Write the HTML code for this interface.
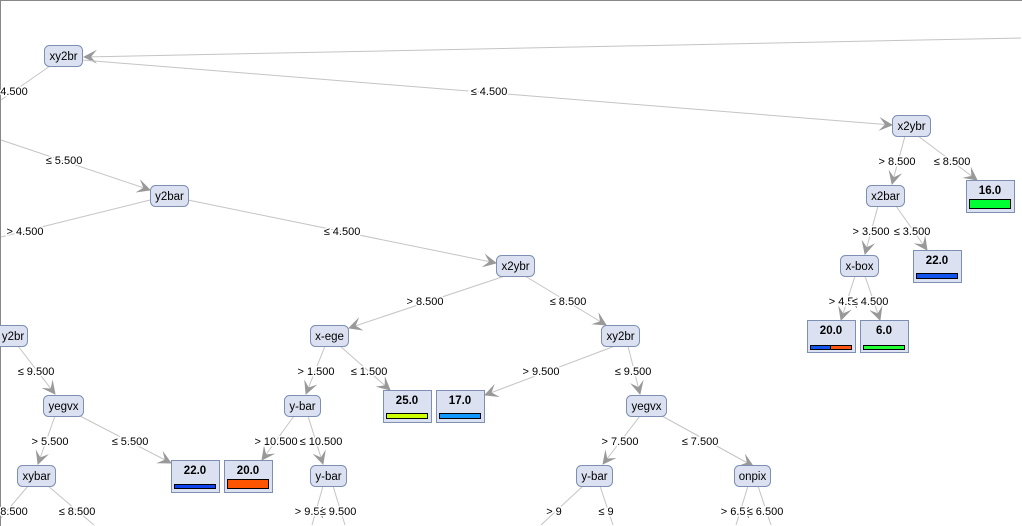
<!DOCTYPE html>
<html><head><meta charset="utf-8"><style>
html,body{margin:0;padding:0;background:#fff;width:1022px;height:526px;overflow:hidden;}
svg{display:block;font-family:"Liberation Sans",sans-serif;overflow:hidden}
.e{stroke:#c4c4c4;stroke-width:1;fill:none}
.n{fill:#dbe1f1;stroke:#7d8fb3;stroke-width:1}
.l{font-size:11px;fill:#000;stroke:#fff;stroke-width:3px;paint-order:stroke;text-anchor:middle}
.t{font-size:11.5px;text-anchor:middle;fill:#000}
.v{font-size:11.5px;font-weight:bold;text-anchor:middle}
</style></head><body>
<svg width="1022" height="526" viewBox="0 0 1022 526">
<defs><marker id="a" markerWidth="16" markerHeight="14" refX="13" refY="7" orient="auto" markerUnits="userSpaceOnUse"><path d="M0,0 L14,7 L0,14 L6,7 z" fill="#999"/></marker></defs>
<path d="M0.5,526 L0.5,0.5 L1022,0.5" fill="none" stroke="#888"/>
<g class="e">
<line x1="1021" y1="38" x2="84" y2="57" marker-end="url(#a)"/>
<line x1="82" y1="60" x2="892" y2="125" marker-end="url(#a)"/>
<line x1="50" y1="66" x2="1" y2="100"/>
<line x1="1" y1="140" x2="150" y2="190" marker-end="url(#a)"/>
<line x1="150" y1="200" x2="1" y2="237"/>
<line x1="188" y1="200" x2="496" y2="263" marker-end="url(#a)"/>
<line x1="505" y1="276" x2="349" y2="328" marker-end="url(#a)"/>
<line x1="525" y1="276" x2="606" y2="325" marker-end="url(#a)"/>
<line x1="325" y1="346" x2="306" y2="394" marker-end="url(#a)"/>
<line x1="340" y1="346" x2="390" y2="390" marker-end="url(#a)"/>
<line x1="615" y1="346" x2="485" y2="395" marker-end="url(#a)"/>
<line x1="628" y1="346" x2="640" y2="394" marker-end="url(#a)"/>
<line x1="18" y1="346" x2="55" y2="394" marker-end="url(#a)"/>
<line x1="55" y1="416" x2="38" y2="464" marker-end="url(#a)"/>
<line x1="80" y1="416" x2="171" y2="463" marker-end="url(#a)"/>
<line x1="294" y1="416" x2="262" y2="460" marker-end="url(#a)"/>
<line x1="308" y1="416" x2="323" y2="464" marker-end="url(#a)"/>
<line x1="323" y1="486" x2="312" y2="525"/>
<line x1="333" y1="486" x2="345" y2="525"/>
<line x1="28" y1="486" x2="1" y2="518"/>
<line x1="48" y1="486" x2="94" y2="525"/>
<line x1="640" y1="416" x2="603" y2="464" marker-end="url(#a)"/>
<line x1="662" y1="416" x2="753" y2="466" marker-end="url(#a)"/>
<line x1="583" y1="486" x2="541" y2="525"/>
<line x1="600" y1="486" x2="613" y2="525"/>
<line x1="748" y1="486" x2="736" y2="525"/>
<line x1="758" y1="486" x2="771" y2="525"/>
<line x1="905" y1="136" x2="892" y2="184" marker-end="url(#a)"/>
<line x1="918" y1="136" x2="977" y2="180" marker-end="url(#a)"/>
<line x1="878" y1="206" x2="865" y2="254" marker-end="url(#a)"/>
<line x1="896" y1="206" x2="927" y2="250" marker-end="url(#a)"/>
<line x1="855" y1="276" x2="841" y2="320" marker-end="url(#a)"/>
<line x1="865" y1="276" x2="880" y2="320" marker-end="url(#a)"/>
</g>
<g>
<text class="l" x="489" y="95">≤ 4.500</text>
<text class="l" x="14" y="95">4.500</text>
<text class="l" x="64" y="164">≤ 5.500</text>
<text class="l" x="25" y="235">&gt; 4.500</text>
<text class="l" x="342" y="235">≤ 4.500</text>
<text class="l" x="425" y="305">&gt; 8.500</text>
<text class="l" x="568" y="305">≤ 8.500</text>
<text class="l" x="316" y="375">&gt; 1.500</text>
<text class="l" x="369" y="375">≤ 1.500</text>
<text class="l" x="541" y="375">&gt; 9.500</text>
<text class="l" x="633" y="375">≤ 9.500</text>
<text class="l" x="36" y="375">≤ 9.500</text>
<text class="l" x="50" y="445">&gt; 5.500</text>
<text class="l" x="130" y="445">≤ 5.500</text>
<text class="l" x="276" y="445">&gt; 10.500</text>
<text class="l" x="321" y="445">≤ 10.500</text>
<text class="l" x="309" y="515">&gt; 9.5(</text>
<text class="l" x="338" y="515">≤ 9.500</text>
<text class="l" x="14" y="515">8.500</text>
<text class="l" x="77" y="515">≤ 8.500</text>
<text class="l" x="620" y="445">&gt; 7.500</text>
<text class="l" x="700" y="445">≤ 7.500</text>
<text class="l" x="554" y="515">&gt; 9</text>
<text class="l" x="606" y="515">≤ 9</text>
<text class="l" x="735" y="515">&gt; 6.5(</text>
<text class="l" x="765" y="515">≤ 6.500</text>
<text class="l" x="897" y="165">&gt; 8.500</text>
<text class="l" x="952" y="165">≤ 8.500</text>
<text class="l" x="871" y="235">&gt; 3.500</text>
<text class="l" x="912" y="235">≤ 3.500</text>
<text class="l" x="843" y="305">&gt; 4.5(</text>
<text class="l" x="870" y="305">≤ 4.500</text>
</g>
<g>
<rect class="n" x="44.5" y="45.5" width="38" height="21" rx="5"/><text class="t" x="63.5" y="60">xy2br</text>
<rect class="n" x="150.5" y="185.5" width="38" height="21" rx="5"/><text class="t" x="169.5" y="200">y2bar</text>
<rect class="n" x="892.5" y="115.5" width="38" height="21" rx="5"/><text class="t" x="911.5" y="130">x2ybr</text>
<rect class="n" x="866.5" y="185.5" width="38" height="21" rx="5"/><text class="t" x="885.5" y="200">x2bar</text>
<rect class="n" x="840.5" y="255.5" width="38" height="21" rx="5"/><text class="t" x="859.5" y="270">x-box</text>
<rect class="n" x="496.5" y="255.5" width="38" height="21" rx="5"/><text class="t" x="515.5" y="270">x2ybr</text>
<rect class="n" x="310.5" y="325.5" width="38" height="21" rx="5"/><text class="t" x="329.5" y="340">x-ege</text>
<rect class="n" x="601.5" y="325.5" width="38" height="21" rx="5"/><text class="t" x="620.5" y="340">xy2br</text>
<rect class="n" x="-10.5" y="325.5" width="38" height="21" rx="5"/><text class="t" x="13" y="340">y2br</text>
<rect class="n" x="43.5" y="395.5" width="40" height="21" rx="5"/><text class="t" x="63.5" y="410">yegvx</text>
<rect class="n" x="17.5" y="465.5" width="38" height="21" rx="5"/><text class="t" x="36.5" y="480">xybar</text>
<rect class="n" x="284.5" y="395.5" width="36" height="21" rx="5"/><text class="t" x="302.5" y="410">y-bar</text>
<rect class="n" x="310.5" y="465.5" width="36" height="21" rx="5"/><text class="t" x="328.5" y="480">y-bar</text>
<rect class="n" x="626.5" y="395.5" width="40" height="21" rx="5"/><text class="t" x="646.5" y="410">yegvx</text>
<rect class="n" x="576.5" y="465.5" width="36" height="21" rx="5"/><text class="t" x="594.5" y="480">y-bar</text>
<rect class="n" x="734.5" y="465.5" width="36" height="21" rx="5"/><text class="t" x="752.5" y="480">onpix</text>
</g>
<g>
<rect class="n" x="966.5" y="180.5" width="48" height="32"/><text class="v" x="990" y="194">16.0</text><rect x="969.5" y="199.5" width="41" height="9" fill="#00ff33" stroke="#000"/>
<rect class="n" x="913.5" y="250.5" width="48" height="32"/><text class="v" x="937" y="264">22.0</text><rect x="916.5" y="273.5" width="41" height="5" fill="#1155ee" stroke="#000"/>
<rect class="n" x="807.5" y="320.5" width="48" height="32"/><text class="v" x="831" y="334">20.0</text><rect x="810.5" y="345.5" width="20" height="4" fill="#1155ee" stroke="#000"/><rect x="830.5" y="345.5" width="21" height="4" fill="#ff5511" stroke="#000"/>
<rect class="n" x="860.5" y="320.5" width="48" height="32"/><text class="v" x="884" y="334">6.0</text><rect x="863.5" y="345.5" width="41" height="4" fill="#22ff33" stroke="#000"/>
<rect class="n" x="383.5" y="390.5" width="48" height="32"/><text class="v" x="407" y="404">25.0</text><rect x="386.5" y="413.5" width="41" height="5" fill="#ccff00" stroke="#000"/>
<rect class="n" x="436.5" y="390.5" width="48" height="32"/><text class="v" x="460" y="404">17.0</text><rect x="439.5" y="413.5" width="41" height="5" fill="#1199ff" stroke="#000"/>
<rect class="n" x="171.5" y="460.5" width="48" height="32"/><text class="v" x="195" y="474">22.0</text><rect x="174.5" y="484.5" width="41" height="4" fill="#1144ee" stroke="#000"/>
<rect class="n" x="224.5" y="460.5" width="48" height="32"/><text class="v" x="248" y="474">20.0</text><rect x="227.5" y="479.5" width="41" height="9" fill="#ff5500" stroke="#000"/>
</g>
</svg>
</body></html>
